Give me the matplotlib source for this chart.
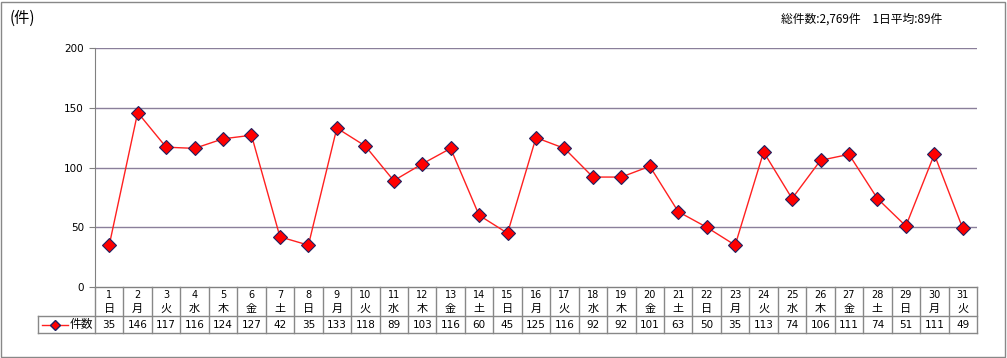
import matplotlib
matplotlib.use("Agg")
import matplotlib.pyplot as plt
from matplotlib.patches import Rectangle
from matplotlib.lines import Line2D

plt.rcParams['font.family'] = ['Noto Sans CJK JP', 'DejaVu Sans']

days = list(range(1, 32))
weekdays = ['日', '月', '火', '水', '木', '金', '土'] * 5
weekdays = weekdays[:31]
counts = [35, 146, 117, 116, 124, 127, 42, 35, 133, 118, 89, 103, 116, 60, 45,
          125, 116, 92, 92, 101, 63, 50, 35, 113, 74, 106, 111, 74, 51, 111, 49]
yticks = [0, 50, 100, 150, 200]
series_name = '件数'
unit_label = '(件)'
summary = '総件数:2,769件　1日平均:89件'

W, H = 1007, 358
fig = plt.figure(figsize=(W / 100, H / 100), dpi=100)

grid_col = '#8a7f9a'
line_col = '#808080'

# outer border
fig.patches.append(Rectangle((1 / W, 1 / H), (W - 3) / W, (H - 3) / H,
                             transform=fig.transFigure, fill=False,
                             edgecolor='#888888', lw=1))

left, right, top, bottom = 95, 977, 48, 287
ax = fig.add_axes([left / W, 1 - bottom / H, (right - left) / W, (bottom - top) / H])
n = len(days)
ax.set_xlim(0, n)
ax.set_ylim(0, 200)
for s in ['top', 'right', 'bottom']:
    ax.spines[s].set_visible(False)
ax.spines['left'].set_color(line_col)
ax.set_yticks(yticks)
ax.set_yticklabels([str(v) for v in yticks], fontsize=7.5, family='DejaVu Sans')
ax.tick_params(axis='y', length=4, color=line_col, pad=4)
ax.set_xticks([])
for v in yticks[1:]:
    ax.axhline(v, color=grid_col, lw=1, zorder=1)

xs = [i + 0.5 for i in range(n)]
ax.plot(xs, counts, color='#ff2020', lw=1, marker='D', markersize=7,
        markerfacecolor='#ff0000', markeredgecolor='#202060', markeredgewidth=0.8,
        zorder=3, clip_on=False)


# data table below the axis (pixel coords -> figure coords)
def fy(py):
    return 1 - py / H


def fx(px):
    return px / W


def hline(x0, x1, y, col):
    fig.lines.append(Line2D([fx(x0), fx(x1)], [fy(y)] * 2, color=col, lw=1,
                            transform=fig.transFigure))


def vline(x, y0, y1, col):
    fig.lines.append(Line2D([fx(x)] * 2, [fy(y0), fy(y1)], color=col, lw=1,
                            transform=fig.transFigure))


rows = [287, 302, 316, 333]
cw = (right - left) / n
tcol = '#888888'
hline(left, right, rows[0], line_col)
hline(38, right, rows[2], tcol)
hline(38, right, rows[3], tcol)
for i in range(n + 1):
    vline(left + i * cw, rows[0], rows[3], tcol)
vline(38, rows[2], rows[3], tcol)

for i in range(n):
    cx = fx(left + (i + 0.5) * cw)
    fig.text(cx, fy(294.5), str(days[i]), ha='center', va='center', fontsize=7,
             family='DejaVu Sans')
    fig.text(cx, fy(309), weekdays[i], ha='center', va='center', fontsize=8)
    fig.text(cx, fy(324.5), str(counts[i]), ha='center', va='center', fontsize=7.5,
             family='DejaVu Sans')

# legend key in table
fig.lines.append(Line2D([fx(42), fx(55), fx(68)], [fy(324.5)] * 3, color='#ff2020', lw=1,
                        marker='D', markersize=5, markevery=[1],
                        markerfacecolor='#ff0000', markeredgecolor='#202060',
                        transform=fig.transFigure))
fig.text(fx(70), fy(324.5), series_name, ha='left', va='center', fontsize=8.5)

fig.text(fx(10), fy(18), unit_label, ha='left', va='center', fontsize=11)
fig.text(fx(942), fy(19), summary, ha='right', va='center', fontsize=8.5)

fig.savefig('out.png', dpi=100)
